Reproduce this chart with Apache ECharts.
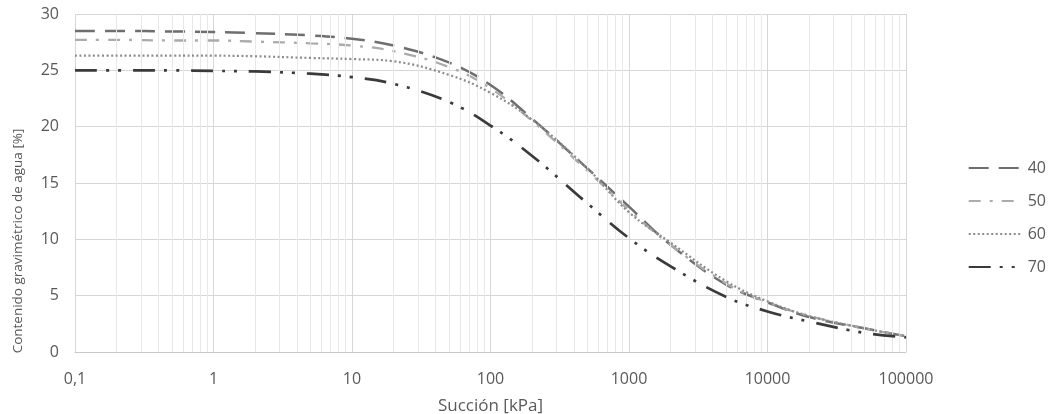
<!DOCTYPE html>
<html>
<head>
<meta charset="utf-8">
<script src="https://cdn.jsdelivr.net/npm/echarts@6/dist/echarts.min.js"></script>
<style>html,body{margin:0;padding:0;background:#fff}#c{width:1055px;height:414px}</style>
</head>
<body>
<div id="c"></div>
<script>
const suction = [0.1, 0.2, 0.5, 1, 2, 5, 10, 20, 50, 100, 200, 500, 1000, 2000, 5000, 10000, 20000, 50000, 100000];
const s40 = [28.5, 28.5, 28.45, 28.4, 28.3, 28.1, 27.8, 27.2, 25.7, 23.7, 20.7, 16.3, 12.9, 9.5, 6.0, 4.4, 3.1, 2.1, 1.4];
const s50 = [27.7, 27.7, 27.65, 27.65, 27.55, 27.4, 27.2, 26.7, 25.3, 23.4, 20.5, 16.1, 12.6, 9.5, 6.1, 4.4, 3.2, 2.1, 1.4];
const s60 = [26.3, 26.3, 26.3, 26.3, 26.25, 26.1, 26.0, 25.8, 24.6, 23.0, 20.6, 16.3, 12.4, 9.7, 6.3, 4.5, 3.2, 2.1, 1.4];
const s70 = [25.0, 25.0, 25.0, 24.95, 24.9, 24.7, 24.4, 23.8, 22.2, 20.1, 17.4, 13.2, 10.1, 7.6, 4.9, 3.6, 2.7, 1.7, 1.3];
const seriesNames = ['40', '50', '60', '70'];
const minorX = [0.2,0.3,0.4,0.5,0.6,0.7,0.8,0.9,2,3,4,5,6,7,8,9,20,30,40,50,60,70,80,90,200,300,400,500,600,700,800,900,2000,3000,4000,5000,6000,7000,8000,9000,20000,30000,40000,50000,60000,70000,80000,90000];
const xTickLabels = {'0.1':'0,1','1':'1','10':'10','100':'100','1000':'1000','10000':'10000','100000':'100000'};
const yTitle = 'Contenido gravimétrico de agua [%]';
const xTitle = 'Succión [kPa]';

const font = "'Open Sans', sans-serif";
const txt = '#595959';
const toPts = arr => suction.map((x, i) => [x, arr[i]]);
const styles = [
  {color: '#6e6e6e', type: [20, 10], width: 2.5},
  {color: '#ababab', type: [12, 9, 3, 9], width: 2.3},
  {color: '#8c8c8c', type: [2, 2.5], width: 2.2},
  {color: '#3a3a3a', type: [22, 9, 3, 9, 3, 12], width: 2.7}
];
const data = [s40, s50, s60, s70];
const series = data.map((d, i) => ({
  name: seriesNames[i], type: 'line', data: toPts(d), smooth: 0.4, showSymbol: false, symbol: 'none',
  lineStyle: styles[i], itemStyle: {color: styles[i].color}, z: 3 + i
}));
series.push({
  type: 'line', data: [], silent: true, z: 1,
  markLine: {silent: true, symbol: 'none', label: {show: false},
    lineStyle: {color: '#e8e8e8', width: 1, type: 'solid'},
    data: minorX.map(v => ({xAxis: v}))}
});

const chart = echarts.init(document.getElementById('c'), null, {renderer: 'canvas'});
chart.setOption({
  animation: false,
  textStyle: {fontFamily: font},
  grid: {left: 75, right: 149, top: 14, bottom: 62, containLabel: false, outerBoundsMode: 'none'},
  legend: {
    orient: 'vertical', right: 4, top: 155, itemGap: 17, itemWidth: 54, itemHeight: 16,
    data: seriesNames, textStyle: {color: txt, fontSize: 16, fontFamily: font},
    itemStyle: {opacity: 0}
  },
  graphic: [{
    type: 'text', x: 18, y: 241, rotation: Math.PI / 2,
    style: {text: yTitle, fill: txt, font: "13.5px 'Open Sans', sans-serif", align: 'center', verticalAlign: 'middle'}
  }],
  xAxis: {
    type: 'log', logBase: 10, min: 0.1, max: 100000,
    name: xTitle, nameLocation: 'middle', nameGap: 46,
    nameTextStyle: {color: txt, fontSize: 17, fontFamily: font},
    axisLine: {lineStyle: {color: '#c8c8c8'}}, axisTick: {show: false},
    axisLabel: {color: txt, fontSize: 16, margin: 19, fontFamily: font,
      formatter: v => xTickLabels[String(+v.toPrecision(6))] || String(v).replace('.', ',')},
    splitLine: {show: true, lineStyle: {color: '#d6d6d6'}}
  },
  yAxis: {
    type: 'value', min: 0, max: 30, interval: 5,
    axisLine: {show: false}, axisTick: {show: false},
    axisLabel: {color: txt, fontSize: 16, margin: 16, fontFamily: font},
    splitLine: {lineStyle: {color: '#d6d6d6'}}
  },
  series: series
});
</script>
</body>
</html>
